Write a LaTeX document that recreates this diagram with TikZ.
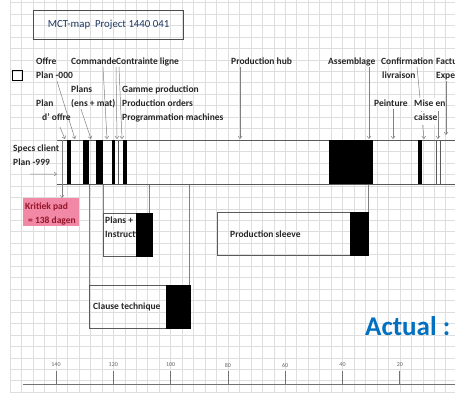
\documentclass[tikz,border=0pt]{standalone}
\usepackage{fontspec}
\setmainfont{Carlito}
\usetikzlibrary{arrows.meta}
\pgfdeclarelayer{grid}
\pgfdeclarelayer{conn}
\pgfsetlayers{grid,conn,main}
\definecolor{gridc}{RGB}{222,222,222}
\definecolor{titlec}{RGB}{31,56,100}
\definecolor{pinkc}{RGB}{241,137,166}
\definecolor{kritc}{RGB}{150,20,40}
\definecolor{actualc}{RGB}{0,112,192}
\definecolor{arrc}{RGB}{128,128,128}
\definecolor{linec}{RGB}{90,90,90}
\begin{document}
\begin{tikzpicture}[x=1pt,y=-1pt,
  lbl/.style={font=\bfseries\fontsize{9.5}{11}\selectfont, text=black!85, inner sep=0pt, anchor=base west, text height=7pt, text depth=2pt},
  arr/.style={draw=arrc, line width=0.5pt, -{Straight Barb[length=2.5pt,width=4pt]}},
  conn/.style={draw=arrc, line width=0.6pt},
  barline/.style={draw=linec, line width=0.7pt},
  boxc/.style={draw=linec, line width=0.7pt, inner sep=0pt, anchor=north west},
  ticklbl/.style={font=\fontsize{6}{7}\selectfont, text=black!60, inner sep=0pt}
]
\useasboundingbox (0,0) rectangle (455,393);
\clip (0,0) rectangle (455,393);

% grid
\begin{pgfonlayer}{grid}
  \fill[white] (0,0) rectangle (455,393);
  \foreach \i in {0,...,39} \draw[gridc, line width=0.5pt] ({10.2+11.46*\i},0) -- ({10.2+11.46*\i},393);
  \foreach \j in {0,...,34} \draw[gridc, line width=0.5pt] (10,{2.5+11.46*\j}) -- (455,{2.5+11.46*\j});
\end{pgfonlayer}

% title
\node[draw=black!70, line width=1.2pt, minimum width=150pt, minimum height=29pt, anchor=north west, inner sep=0pt,
      font=\fontsize{10.8}{13}\selectfont, text=titlec] (title) at (33,10) {MCT-map~~Project 1440 041};
\node[draw=black, line width=1pt, minimum size=10pt, anchor=north west, inner sep=0pt] (sq) at (12,70) {};

% labels top
\node[lbl] (offre) at (36,65) {Offre};
\node[lbl] (p000) at (36,79) {Plan -000};
\begin{scope}
  \clip (60,50) rectangle (116.5,130);
  \node[lbl] (commande) at (71,65) {Commande};
  \node[lbl] (ensmat) at (71,107) {(ens + mat)};
\end{scope}
\node[lbl] (contr) at (116,65) {Contrainte ligne};
\node[lbl] (plans) at (71,93) {Plans};
\node[lbl] (plan) at (36,107) {Plan};
\node[lbl] (doffre) at (42,121) {d' offre};
\node[lbl] (gamme) at (122,93) {Gamme production};
\node[lbl] (porders) at (122,107) {Production orders};
\node[lbl] (progm) at (122,121) {Programmation machines};
\node[lbl] (phub) at (231,65) {Production hub};
\node[lbl] (assem) at (328,65) {Assemblage};
\node[lbl] (confirm) at (381,65) {Confirmation};
\node[lbl] (livr) at (382,79) {livraison};
\node[lbl] (fact) at (436,65) {Facturation};
\node[lbl] (expe) at (436,79) {Expedition};
\node[lbl] (peint) at (374,107) {Peinture};
\node[lbl, fill=white, inner ysep=2pt] (mise) at (414,107) {Mise en};
\node[lbl, fill=white, inner ysep=2pt] (caisse) at (414,121) {caisse};

% targets on bar top
\coordinate (t1) at (65,139);
\coordinate (t2) at (75,139);
\coordinate (t3) at (91,139);
\coordinate (t4) at (107,139);
\coordinate (t5) at (117,139);
\coordinate (t6) at (122,139);
\coordinate (t7) at (240,139);
\coordinate (t8) at (369,139);
\coordinate (t9) at (393,139);
\coordinate (t10) at (424,139);
\coordinate (t11) at (438,139);
\coordinate (t12) at (446,135);
\coordinate (t0) at (62,140);
\coordinate (barL) at (57,174);

\begin{pgfonlayer}{conn}
  \draw[arr] ([xshift=18pt,yshift=-4pt]doffre.south west) -- (t1);
  \draw[arr] ([xshift=21pt]p000.south west) -- (t2);
  \draw[arr] ([xshift=10pt]ensmat.south west) -- (t3);
  \draw[arr] ([xshift=32pt]commande.south west) -- (t4);
  \draw[arr] (contr.south west) -- (t5);
  \draw[arr] ([xshift=3pt]contr.south west) -- (t6);
  \draw[arr] ([xshift=9pt]phub.south west) -- (t7);
  \draw[arr] ([xshift=41pt]assem.south west) -- (t8);
  \draw[arr] ([xshift=19pt]peint.south west) -- (t9);
  \draw[arr] ([xshift=36pt]confirm.south west) -- (t10);
  \draw[arr] ([xshift=24pt]mise.south west) -- (t11);
  \draw[arr] ([xshift=10pt]expe.south west) -- (t12);
\end{pgfonlayer}

% main bar
\draw[barline] (57,140) -- (455,140);
\draw[barline] (57,184) -- (455,184);
\fill (67,140) rectangle (71,184);
\fill (83,140) rectangle (89,184);
\fill (96,140) rectangle (103,184);
\fill (112,140) rectangle (115,184);
\draw[barline, line width=0.5pt] (118.5,140) -- (118.5,184);
\fill (123,140) rectangle (127,184);
\fill (329,140) rectangle (373,184);
\fill (418,140) rectangle (422,184);
\draw[barline, line width=0.5pt] (436,140) -- (436,184);
\draw[barline, line width=0.5pt] (440,140) -- (440,184);

% specs client
\node[lbl] (specs) at (13,151) {Specs client};
\node[lbl] (p999) at (13,165) {Plan -999};
\draw[arr] ([xshift=17pt,yshift=-7pt]p999.south west) -- (barL);

% kritiek pad
\node[fill=pinkc, minimum width=56pt, minimum height=28pt, anchor=north west, inner sep=0pt] (kritiek) at (23,198) {};
\node[lbl, text=kritc] (kr1) at (25,209) {Kritiek pad};
\node[lbl, text=kritc] (kr2) at (28,223) {= 138 dagen};
\draw[arr] (t0) -- (t0 |- kritiek.north);

% sub boxes
\node[boxc, minimum width=49pt, minimum height=43pt] (plansbox) at (103,213) {};
\node[boxc, minimum width=101pt, minimum height=43pt] (clause) at (89,285) {};
\node[boxc, minimum width=151pt, minimum height=43pt] (sleeve) at (217,212) {};

\begin{scope}
  \clip (plansbox.north west) rectangle (plansbox.south east);
  \node[lbl] (pl1) at (105,223) {Plans +};
  \node[lbl] (pl2) at (105,237) {Instructions};
\end{scope}
\fill ([xshift=-17pt]plansbox.north east) rectangle (plansbox.south east);
\node[lbl] (cltxt) at (93,309) {Clause technique};
\fill ([xshift=-25pt]clause.north east) rectangle (clause.south east);
\node[lbl] (sltxt) at (230,237) {Production sleeve};
\fill ([xshift=-19pt]sleeve.north east) rectangle (sleeve.south east);

\coordinate (b1) at (89,184);
\coordinate (b2) at (103,184);
\coordinate (b3) at (149,184);
\coordinate (b4) at (189,184);
\coordinate (b5) at (368,184);
\begin{pgfonlayer}{conn}
  \draw[conn] (b1) -- (b1 |- clause.north);
  \draw[conn] (b4) -- (b4 |- clause.north);
  \draw[conn] (b2) -- (b2 |- plansbox.north);
  \draw[conn] (b3) -- (b3 |- plansbox.north);
  \draw[conn] (b5) -- (b5 |- sleeve.north);
\end{pgfonlayer}

% Actual
\node[font=\bfseries\fontsize{27}{30}\selectfont, text=actualc, inner sep=0pt, anchor=base west] (actual) at (365,335) {Actual :};

% axis
\draw[draw=black!55, line width=0.9pt] (23,384) -- (455,384);
\foreach \d in {140,120,100,80,60,40,20,0} {
  \draw[draw=black!55, line width=0.7pt] ({56+(140-\d)*2.865},371) -- ({56+(140-\d)*2.865},384);
  \node[ticklbl] at ({56+(140-\d)*2.865},365) {\d};
}
\end{tikzpicture}
\end{document}
